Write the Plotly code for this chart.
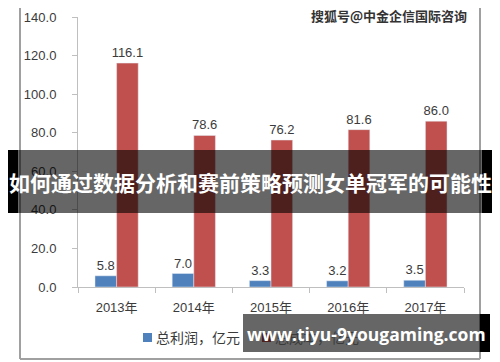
import plotly.graph_objects as go

years = ["2013年", "2014年", "2015年", "2016年", "2017年"]
profit = [5.8, 7.0, 3.3, 3.2, 3.5]
cost = [116.1, 78.6, 76.2, 81.6, 86.0]
series_names = ["总利润，亿元", "总成本，亿元"]
y_ticks = [0, 20, 40, 60, 80, 100, 120, 140]
title_text = "如何通过数据分析和赛前策略预测女单冠军的可能性"
watermark = "搜狐号@中金企信国际咨询"
site_text = "www.tiyu-9yougaming.com"

OFF = 8
W, H = 500 - OFF, 362 - OFF
L, R, T, B = 78 - OFF, 464 - OFF, 17 - OFF, 287 - OFF
PW, PH = R - L, B - T


def xp(px):
    return (px - OFF - L) / PW


def yp(py):
    return (B - (py - OFF)) / PH


FONT = "Liberation Sans, Noto Sans CJK SC, sans-serif"
TXT = "#3b3b3b"

fig = go.Figure()
fig.add_trace(go.Bar(x=years, y=profit, name=series_names[0], marker_color="#4f81bd",
                     text=[f"{v:.1f}" for v in profit], textposition="outside",
                     constraintext="none",
                     textfont=dict(size=13, color=TXT, family=FONT), cliponaxis=False))
fig.add_trace(go.Bar(x=years, y=cost, name=series_names[1], marker_color="#c0504d",
                     text=[f"{v:.1f}" for v in cost], textposition="outside",
                     constraintext="none",
                     textfont=dict(size=13, color=TXT, family=FONT), cliponaxis=False))

fig.update_layout(
    width=W, height=H,
    margin=dict(l=L, r=W - R, t=T, b=H - B, pad=0, autoexpand=False),
    paper_bgcolor="white", plot_bgcolor="white",
    barmode="group", bargap=0.44, bargroupgap=0,
    showlegend=False,
    font=dict(family=FONT, size=13, color=TXT),
)
fig.update_yaxes(range=[0, 140], tickvals=y_ticks, ticktext=[f"{v:.1f}" for v in y_ticks],
                 showgrid=False, zeroline=False, showline=True, linecolor="#bfbfbf", linewidth=1,
                 ticks="outside", ticklen=5, tickcolor="#bfbfbf", ticklabelstandoff=13,
                 tickfont=dict(size=13, color=TXT, family=FONT))
fig.update_xaxes(showgrid=False, showline=True, linecolor="#bfbfbf", linewidth=1,
                 ticks="outside", ticklen=5, tickcolor="#bfbfbf", tickson="boundaries",
                 ticklabelstandoff=8,
                 tickfont=dict(size=13, color=TXT, family=FONT))

shapes = []
# chart frame drawn as a filled ring of thin rects (robust rendering)
FR = "#a0a0a0"


def rect(a, b, c, d, color):
    shapes.append(dict(type="rect", xref="paper", yref="paper", x0=xp(a), x1=xp(b),
                       y0=yp(d), y1=yp(c), fillcolor=color, line_width=0, layer="above"))


rect(19, 21, 8, 359, FR)      # left edge
rect(479, 481, 8, 359, FR)    # right edge
rect(20, 480, 358, 360, FR)   # bottom edge

# legend squares
rect(143, 152, 333, 342, "#4f81bd")
rect(262, 271, 333, 342, "#c0504d")

# top banner
rect(8, 18, 150, 213, "black")
rect(482, 492, 150, 213, "black")
rect(18, 482, 150, 213, "rgba(0,0,0,0.6)")
# bottom banner
rect(243, 480, 314, 352, "rgba(0,0,0,0.6)")
rect(480, 490, 314, 352, "black")

annotations = [
    dict(text=series_names[0], x=xp(154), y=yp(337), xref="paper", yref="paper",
         xanchor="left", yanchor="middle", showarrow=False,
         font=dict(size=14, color=TXT, family="Noto Sans CJK SC")),
    dict(text=series_names[1], x=xp(273), y=yp(337), xref="paper", yref="paper",
         xanchor="left", yanchor="middle", showarrow=False,
         font=dict(size=14, color=TXT, family="Noto Sans CJK SC")),
    dict(text=f"<b>{watermark}</b>", x=xp(468), y=yp(15), xref="paper", yref="paper",
         xanchor="right", yanchor="middle", showarrow=False, borderpad=0,
         font=dict(size=13, color="#333333", family="Noto Sans CJK SC")),
    dict(text=f"<b>{title_text}</b>", x=xp(250), y=yp(182), xref="paper", yref="paper",
         xanchor="center", yanchor="middle", showarrow=False,
         font=dict(size=21, color="white", family="Noto Sans CJK SC")),
    dict(text=f"<b>{site_text}</b>", x=xp(366), y=yp(334), xref="paper", yref="paper",
         xanchor="center", yanchor="middle", showarrow=False,
         font=dict(size=17.5, color="white", family="Open Sans")),
]
fig.update_layout(shapes=shapes, annotations=annotations)

fig.write_html("out.html")
